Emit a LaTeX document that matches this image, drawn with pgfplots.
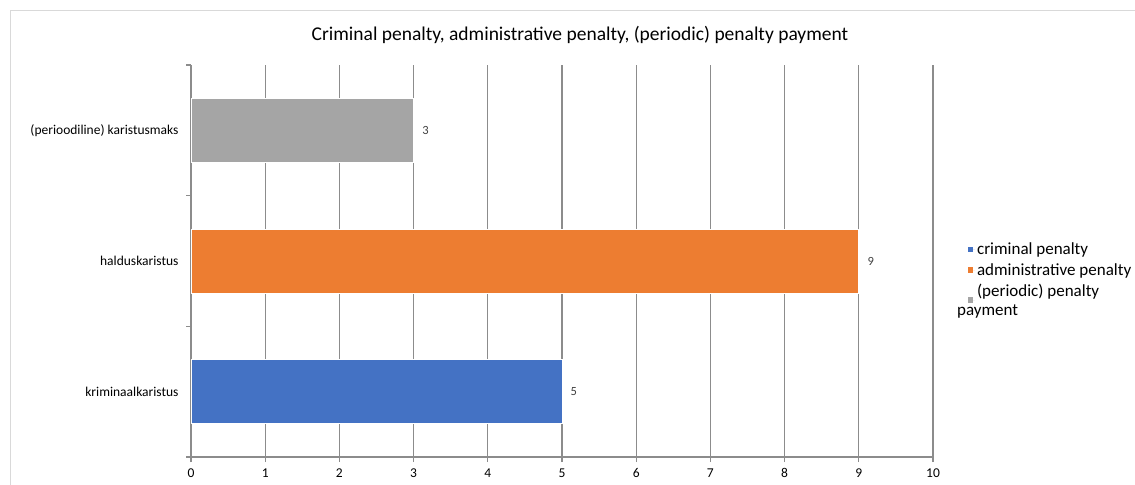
\documentclass[border=0pt]{standalone}
\usepackage{pgfplots}
\pgfplotsset{compat=1.18}
\usepackage{fontspec}
\setmainfont{Carlito}
\definecolor{cBlue}{HTML}{4472C4}
\definecolor{cOrange}{HTML}{ED7D31}
\definecolor{cGray}{HTML}{A5A5A5}
\definecolor{gridc}{HTML}{8C8C8C}
\definecolor{txt}{HTML}{404040}
\begin{document}
\begin{tikzpicture}
\useasboundingbox (0bp,0bp) rectangle (1135bp,485bp);
\draw[color=black!15, line width=1bp] (10bp,0bp) -- (10bp,474bp) -- (1135bp,474bp);
\node[font=\fontsize{19.5bp}{23bp}\selectfont, text=black] at (580bp,450bp) {Criminal penalty, administrative penalty, (periodic) penalty payment};
\begin{axis}[
  at={(191bp,28bp)}, anchor=south west,
  scale only axis, width=742bp, height=392bp,
  xmin=0, xmax=10, ymin=-0.5, ymax=2.5,
  xtick={0,1,...,10},
  ytick={0,1,2},
  yticklabels={kriminaalkaristus, halduskaristus, (perioodiline) karistusmaks},
  minor ytick={-0.5,0.5,1.5,2.5},
  axis x line*=bottom, axis y line*=left,
  axis line style={draw=gridc, line width=1.2bp, -},
  xmajorgrids, major grid style={draw=gridc, line width=1.2bp},
  tick align=outside,
  major tick length=5bp, minor tick length=5bp,
  every major y tick/.style={draw=none},
  every minor y tick/.style={draw=gridc, line width=1.2bp},
  every major x tick/.style={draw=gridc, line width=1.2bp},
  ymajorgrids=false, yminorgrids=false,
  tick label style={font=\fontsize{13.5bp}{16bp}\selectfont, text=black},
  xticklabel style={yshift=-3bp},
  yticklabel style={xshift=-4bp},
  /pgf/number format/assume math mode=true,
  xbar, bar width=64bp, bar shift=0pt,
  nodes near coords,
  every node near coord/.append style={font=\fontsize{12.5bp}{15bp}\selectfont, text=txt, xshift=5bp},
  legend style={at={(rel axis cs:1.043,0.452)}, anchor=west, draw=none, fill=none,
    font=\fontsize{17bp}{20bp}\selectfont, cells={anchor=west, align=left},
    row sep=3bp},
  legend image code/.code={\fill[draw=none] (0bp,-2.5bp) rectangle (4.5bp,3bp); \path[draw=none] (0bp,0bp) -- (7bp,0bp);},
]
\addplot[fill=cBlue, draw=white, line width=0.8bp] coordinates {(5,0)};
\addplot[fill=cOrange, draw=white, line width=0.8bp] coordinates {(9,1)};
\addplot[fill=cGray, draw=white, line width=0.8bp] coordinates {(3,2)};
\legend{criminal penalty, administrative penalty, {(periodic) penalty\\[-1bp]\hspace*{-20bp}payment}}
\end{axis}
\end{tikzpicture}
\end{document}
